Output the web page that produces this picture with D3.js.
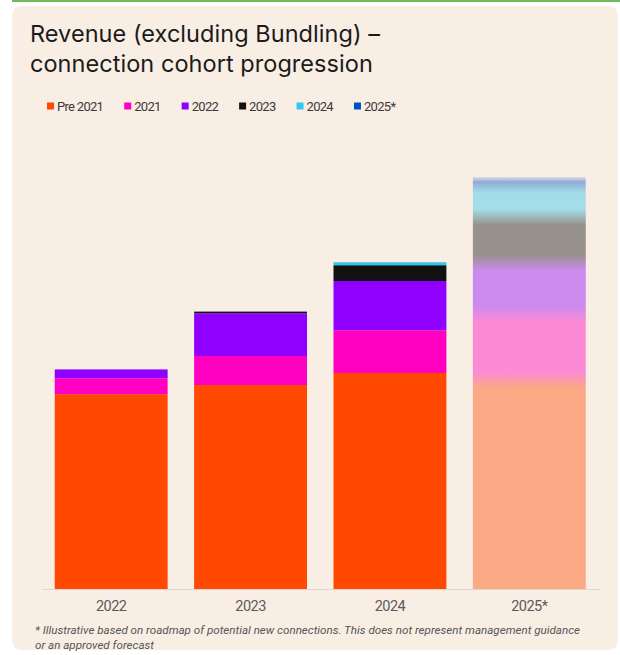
<!DOCTYPE html>
<html>
<head>
<meta charset="utf-8">
<script src="https://cdn.jsdelivr.net/npm/d3@7"></script>
<style>
  html, body { margin: 0; padding: 0; background: #ffffff; }
  svg { display: block; font-family: Roboto, "Liberation Sans", sans-serif; }
</style>
</head>
<body>
<svg id="chart" width="620" height="655"></svg>
<script>
// ---- Data -------------------------------------------------------------
const years = ["2022", "2023", "2024", "2025*"];
const cohorts = ["Pre 2021", "2021", "2022", "2023", "2024", "2025*"];

// Revenue contributed by each connection cohort, per year (relative units)
const pre2021    = [97.4, 102.0, 108.0, 104.5];
const cohort2021 = [ 8.0,  14.5,  21.4,  33.0];
const cohort2022 = [ 4.4,  21.4,  24.6,  25.5];
const cohort2023 = [ 0.0,   0.8,   7.9,  23.0];
const cohort2024 = [ 0.0,   0.0,   1.5,  16.0];
const cohort2025 = [ 0.0,   0.0,   0.0,   4.0];

// Years shown as an illustrative forecast
const forecastYears = ["2025*"];

const cohortColors = ["#FF4900", "#FF00C0", "#8F00FF", "#111111", "#2CC8EE", "#0050C8"];

const titleLines = ["Revenue (excluding Bundling) \u2013", "connection cohort progression"];
const footnoteLines = [
  "* Illustrative based on roadmap of potential new connections. This does not represent management guidance",
  "or an approved forecast"
];

// ---- Layout -----------------------------------------------------------
const W = 620, H = 655;
const plot = { left: 41.5, right: 599, base: 589 };
const forecastOpacity = 0.42;
const blendHalf = 8;      // half-height of the soft transition between forecast segments
const topFade = 5;

const svg = d3.select("#chart");

// page frame: green rule and rounded beige card
svg.append("rect").attr("x", 12).attr("y", 0).attr("width", W - 12).attr("height", 2)
  .attr("fill", "#6dbd5d");
svg.append("rect").attr("x", 12).attr("y", 6).attr("width", 606).attr("height", 644)
  .attr("rx", 9).attr("fill", "#f9eee4");

// title
svg.append("g").selectAll("text").data(titleLines).join("text")
  .attr("x", 30).attr("y", (d, i) => 42 + i * 30)
  .attr("font-family", "Inter, Roboto, sans-serif")
  .attr("font-size", 23.5).attr("letter-spacing", 0.05).attr("fill", "#1b1b1b")
  .text(d => d);

// legend
const colorOf = d3.scaleOrdinal().domain(cohorts).range(cohortColors);
const legend = svg.append("g").attr("transform", "translate(47,0)");
let lx = 0;
cohorts.forEach(c => {
  const item = legend.append("g").attr("transform", `translate(${lx},0)`);
  item.append("rect").attr("x", 0).attr("y", 102.5).attr("width", 7).attr("height", 7)
    .attr("fill", colorOf(c));
  const t = item.append("text").attr("x", 10).attr("y", 110.5)
    .attr("font-size", 13).attr("letter-spacing", -0.7).attr("fill", "#3a3a3a")
    .text(c);
  lx += 10 + t.node().getComputedTextLength() + 21;
});

// ---- Scales -----------------------------------------------------------
const table = years.map((y, i) => ({
  year: y,
  "Pre 2021": pre2021[i],
  "2021": cohort2021[i],
  "2022": cohort2022[i],
  "2023": cohort2023[i],
  "2024": cohort2024[i],
  "2025*": cohort2025[i]
}));

const series = d3.stack().keys(cohorts)(table);
const maxTotal = d3.max(table, d => d3.sum(cohorts, k => d[k]));

const x = d3.scaleBand().domain(years).range([plot.left, plot.right])
  .paddingInner(0.19).paddingOuter(0.095);
const y = d3.scaleLinear().domain([0, maxTotal]).range([plot.base, 177]);

// ---- Axis -------------------------------------------------------------
const axis = svg.append("g").attr("transform", `translate(0,${plot.base})`)
  .call(d3.axisBottom(x).tickSize(0).tickSizeOuter(0));
axis.select(".domain").attr("stroke", "#ddd7d0").attr("stroke-width", 1);
axis.selectAll(".tick text")
  .attr("y", 22).attr("dy", 0)
  .attr("font-family", "Roboto, 'Liberation Sans', sans-serif")
  .attr("font-size", 14.5).attr("letter-spacing", -0.5).attr("fill", "#5a5a5a");

// ---- Forecast gradients (soft blended cohorts) --------------------------
const defs = svg.append("defs");
forecastYears.forEach((fy, fi) => {
  const idx = years.indexOf(fy);
  // segments from top to bottom
  const segs = series.map((s, k) => ({ key: cohorts[k], y0: y(s[idx][1]), y1: y(s[idx][0]) }))
    .filter(s => s.y1 - s.y0 > 0.01)
    .reverse();
  const yTop = segs[0].y0, yBot = segs[segs.length - 1].y1;
  const off = v => Math.max(0, Math.min(1, (v - yTop) / (yBot - yTop)));
  const stops = [];
  stops.push({ o: 0, c: colorOf(segs[0].key), a: 0.1 });
  stops.push({ o: off(yTop + topFade), c: colorOf(segs[0].key), a: forecastOpacity });
  for (let k = 0; k < segs.length - 1; k++) {
    const b = segs[k].y1;
    stops.push({ o: off(b - blendHalf), c: colorOf(segs[k].key), a: forecastOpacity });
    stops.push({ o: off(b + blendHalf), c: colorOf(segs[k + 1].key), a: forecastOpacity });
  }
  stops.push({ o: 1, c: colorOf(segs[segs.length - 1].key), a: forecastOpacity });
  const g = defs.append("linearGradient").attr("id", "forecast-" + fi)
    .attr("gradientUnits", "userSpaceOnUse")
    .attr("x1", 0).attr("x2", 0).attr("y1", yTop).attr("y2", yBot);
  g.selectAll("stop").data(stops).join("stop")
    .attr("offset", d => d.o).attr("stop-color", d => d.c).attr("stop-opacity", d => d.a);
});

// ---- Bars -------------------------------------------------------------
const fillFor = (key, year) => {
  const fi = forecastYears.indexOf(year);
  return fi >= 0 ? `url(#forecast-${fi})` : colorOf(key);
};

svg.append("g").selectAll("g").data(series).join("g")
  .each(function (s) {
    d3.select(this).selectAll("rect")
      .data(s.filter(d => d[1] - d[0] > 0))
      .join("rect")
      .attr("x", d => x(d.data.year))
      .attr("width", x.bandwidth())
      .attr("y", d => y(d[1]))
      .attr("height", d => y(d[0]) - y(d[1]))
      .attr("fill", d => fillFor(s.key, d.data.year));
  });

// ---- Footnote ---------------------------------------------------------
svg.append("g").selectAll("text").data(footnoteLines).join("text")
  .attr("x", 35).attr("y", (d, i) => 634 + i * 15)
  .attr("font-size", 11.6).attr("font-style", "italic")
  .attr("fill", "#555")
  .text(d => d);
</script>
</body>
</html>
